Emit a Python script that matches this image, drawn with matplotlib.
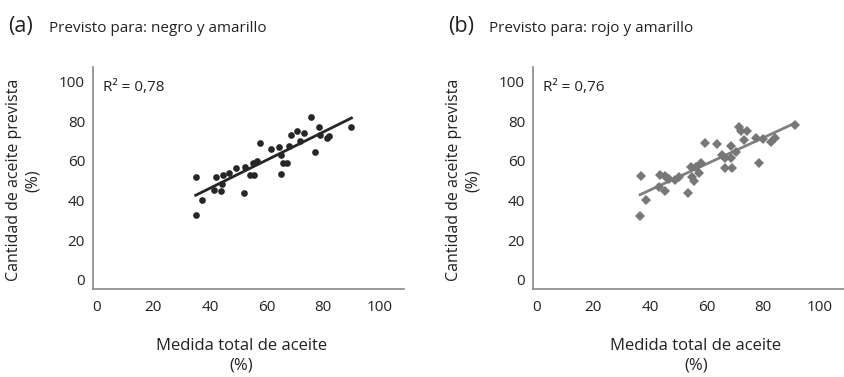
import numpy as np
import matplotlib
matplotlib.use("Agg")
import matplotlib.pyplot as plt

plt.rcParams['font.family'] = ['Open Sans', 'DejaVu Sans']

# (a) negro y amarillo
xa = [35.0, 35.0, 37.4, 42.1, 41.4, 43.8, 44.4, 44.6, 46.8, 49.1, 52.0, 52.3,
      54.0, 55.5, 55.2, 56.6, 57.8, 61.7, 64.3, 64.9, 65.0, 65.8, 67.3, 67.8,
      68.7, 70.7, 71.7, 73.2, 75.8, 76.9, 78.5, 78.7, 81.4, 82.0, 89.9]
ya = [52.1, 32.8, 40.3, 51.8, 45.4, 44.9, 48.3, 53.0, 54.1, 56.3, 43.7, 56.8,
      53.0, 53.0, 59.2, 60.0, 69.2, 65.9, 67.2, 63.0, 53.6, 59.2, 59.2, 67.6,
      73.1, 75.3, 70.1, 74.3, 82.4, 64.7, 77.3, 73.1, 71.4, 72.6, 77.3]

# (b) rojo y amarillo
xb = [36.7, 36.6, 38.7, 43.3, 43.7, 45.4, 45.4, 45.9, 46.8, 49.0, 50.1, 53.5,
      55.6, 55.0, 54.5, 56.2, 57.9, 57.3, 59.3, 63.5, 65.4, 66.5, 66.5, 68.5,
      68.5, 69.1, 70.3, 71.3, 72.0, 74.4, 73.2, 77.3, 78.5, 79.7, 82.6, 84.1,
      91.1]
yb = [52.5, 32.2, 40.1, 46.7, 52.9, 45.1, 52.6, 51.3, 50.9, 50.4, 52.1, 44.1,
      50.1, 52.1, 57.1, 57.1, 59.0, 53.8, 69.2, 68.4, 63.0, 61.4, 56.6, 67.8,
      61.4, 56.3, 64.7, 76.9, 75.3, 74.9, 70.8, 71.7, 58.9, 70.9, 69.7, 71.5,
      78.1]

titles = ["Previsto para: negro y amarillo", "Previsto para: rojo y amarillo"]
letters = ["(a)", "(b)"]
r2 = ["0,78", "0,76"]
ticks = [0, 20, 40, 60, 80, 100]

fig = plt.figure(figsize=(8.45, 3.77), dpi=100)
ax1 = fig.add_axes([0.1097, 0.2326, 0.368, 0.5897])
ax2 = fig.add_axes([0.6304, 0.2326, 0.368, 0.5897])

panels = [(ax1, xa, ya, 'o', '#262626', '#262626', 4.8, 0.478),
          (ax2, xb, yb, 'D', '#777777', '#808080', 5.4, 0.525)]

for i, (ax, x, y, mk, mc, lc, ms, xl) in enumerate(panels):
    x = np.array(x)
    y = np.array(y)
    ax.plot(x, y, mk, color=mc, markersize=ms, markeredgewidth=0, zorder=3)
    k, b = np.polyfit(x, y, 1)
    xs = np.array([x.min(), x.max()])
    ax.plot(xs, k * xs + b, color=lc, lw=2.0, zorder=2)

    ax.set_xlim(-1.3, 108.3)
    ax.set_ylim(-4.7, 107.4)
    ax.set_xticks(ticks)
    ax.set_yticks(ticks)
    ax.tick_params(length=0, labelsize=11, colors='#222222')
    ax.tick_params(axis='x', pad=8)
    ax.tick_params(axis='y', pad=5.5)
    for s in ['top', 'right']:
        ax.spines[s].set_visible(False)
    for s in ['left', 'bottom']:
        ax.spines[s].set_color('#888888')
        ax.spines[s].set_linewidth(1.2)

    ax.set_xlabel("Medida total de aceite\n(%)", fontsize=12, color='#222222',
                  linespacing=1.25)
    ax.xaxis.set_label_coords(xl, -0.22)
    ax.set_ylabel("Cantidad de aceite prevista\n(%)", fontsize=11.5, color='#222222',
                  linespacing=1.25)
    ax.yaxis.set_label_coords(-0.166, 0.49)

    ax.text(0.032, 0.91, "R² = " + r2[i], transform=ax.transAxes, fontsize=11,
            va='center', ha='left', color='#222222')

    ax.text(-0.273, 1.18, letters[i], transform=ax.transAxes, fontsize=15.5,
            va='center', ha='left', color='#222222')
    ax.text(-0.14, 1.175, titles[i], transform=ax.transAxes, fontsize=11,
            va='center', ha='left', color='#222222')

fig.savefig("out.png", dpi=100)
